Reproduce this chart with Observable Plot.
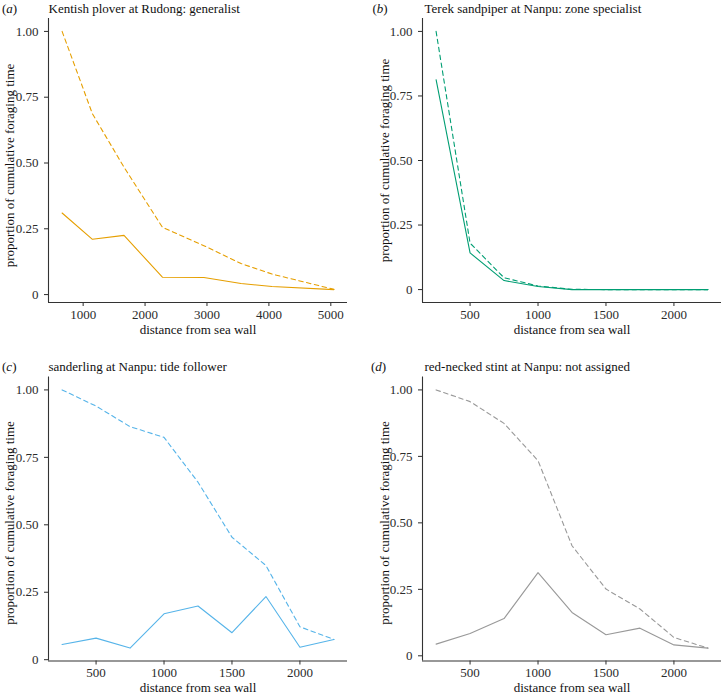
<!DOCTYPE html>
<html>
<head>
<meta charset="utf-8">
<script src="https://cdn.jsdelivr.net/npm/d3@7"></script>
<script src="https://cdn.jsdelivr.net/npm/@observablehq/plot@0.6"></script>
<style>
  body { margin: 0; background: #fff; }
  #fig { position: relative; width: 722px; height: 695px; background: #fff;
         font-family: "Liberation Serif", "Times New Roman", serif; }
  .panel { position: absolute; z-index: 1; }
  .tag { position: absolute; z-index: 5; font-size: 13px; line-height: 13px; color: #111; white-space: nowrap; }
</style>
</head>
<body>
<div id="fig"></div>
<script>
// ---------- data ----------
const distRudong = [660, 1150, 1660, 2280, 2950, 3550, 4050, 5050];
const kentishProportion = [0.31, 0.21, 0.225, 0.066, 0.065, 0.042, 0.031, 0.019];
const kentishCumulative = [1.0, 0.687, 0.484, 0.256, 0.186, 0.118, 0.078, 0.02];

const distNanpu = [250, 500, 750, 1000, 1250, 1500, 1750, 2000, 2250];
const terekProportion = [0.813, 0.142, 0.035, 0.012, 0, 0, 0, 0, 0];
const terekCumulative = [1.0, 0.18, 0.046, 0.014, 0.001, 0, 0, 0, 0];

const sanderlingProportion = [0.056, 0.080, 0.043, 0.170, 0.199, 0.100, 0.234, 0.046, 0.075];
const sanderlingCumulative = [1.0, 0.94, 0.864, 0.824, 0.658, 0.454, 0.349, 0.122, 0.075];

const stintProportion = [0.044, 0.084, 0.14, 0.313, 0.163, 0.079, 0.104, 0.041, 0.029];
const stintCumulative = [1.0, 0.956, 0.874, 0.734, 0.414, 0.251, 0.176, 0.069, 0.029];

const panelTags = ["a", "b", "c", "d"];
const panelTitles = [
  "Kentish plover at Rudong: generalist",
  "Terek sandpiper at Nanpu: zone specialist",
  "sanderling at Nanpu: tide follower",
  "red-necked stint at Nanpu: not assigned"
];
const xTicksRudong = [1000, 2000, 3000, 4000, 5000];
const xTicksNanpu = [500, 1000, 1500, 2000];
const yTicks = [0, 0.25, 0.5, 0.75, 1];
const xAxisTitle = "distance from sea wall";
const yAxisTitle = "proportion of cumulative foraging time";

// ---------- drawing ----------
const SERIF = "'Liberation Serif', 'Times New Roman', serif";
function expand([a, b]) { const p = (b - a) * 0.05; return [a - p, b + p]; }

function panel(o) {
  const rows = o.dist.map((d, i) => ({d, s: o.solid[i], c: o.dashed[i]}));
  const xd = expand(d3.extent(o.dist));
  const yd = expand(d3.extent(o.solid.concat(o.dashed)));
  return Plot.plot({
    width: o.width, height: o.height,
    marginLeft: o.ml, marginRight: o.mr, marginTop: o.mt, marginBottom: o.mb,
    style: `font-family: ${SERIF}; font-size: 13px; color: #2b2b2b; background: transparent; overflow: visible;`,
    x: {domain: xd},
    y: {domain: yd},
    marks: [
      Plot.axisX({ticks: o.xTicks, tickSize: 4, tickPadding: 3, label: null, tickFormat: d3.format("d"),
                  fontFamily: SERIF, fontSize: 13}),
      Plot.axisY({ticks: yTicks, tickSize: 4, tickPadding: 6, label: null, fontFamily: SERIF, fontSize: 13,
                  tickFormat: d => d === 0 ? "0" : d3.format(".2f")(d)}),
      Plot.ruleX([xd[0]], {stroke: "#333", strokeWidth: 1.1}),
      Plot.ruleY([yd[0]], {stroke: "#333", strokeWidth: 1.1}),
      Plot.line(rows, {x: "d", y: "c", stroke: o.color, strokeWidth: 1.1, strokeDasharray: "4.5,3.5"}),
      Plot.line(rows, {x: "d", y: "s", stroke: o.color, strokeWidth: 1.1}),
      Plot.text([yAxisTitle], {text: d => d, frameAnchor: "left", textAnchor: "middle", lineAnchor: "middle",
                               rotate: -90, dx: o.ytdx, dy: o.ytdy,
                               fontSize: 13, fill: "#111", fontFamily: SERIF}),
      Plot.text([xAxisTitle], {text: d => d, frameAnchor: "bottom", textAnchor: "middle", lineAnchor: "middle",
                               dy: 27, fontSize: 13, fill: "#111", fontFamily: SERIF}),
      Plot.text([o.title], {text: d => d, frameAnchor: "top-left", textAnchor: "start", lineAnchor: "bottom",
                            dx: o.tdx, dy: -6, fontSize: 13, fill: "#111", fontFamily: SERIF})
    ]
  });
}

const fig = document.getElementById("fig");
const specs = [
  {dist: distRudong, solid: kentishProportion, dashed: kentishCumulative, color: "#E69F00", xTicks: xTicksRudong,
   left: 0, top: 0, width: 361, height: 345, ml: 48, mr: 14, mt: 18, mb: 43, ytdx: -39, ytdy: 5, tdx: 0,
   tagLeft: 2, tagTop: 1.6},
  {dist: distNanpu, solid: terekProportion, dashed: terekCumulative, color: "#009E73", xTicks: xTicksNanpu,
   left: 361, top: 0, width: 361, height: 345, ml: 61, mr: 1, mt: 18, mb: 43, ytdx: -38, ytdy: 0, tdx: 2,
   tagLeft: 372.5, tagTop: 1.6},
  {dist: distNanpu, solid: sanderlingProportion, dashed: sanderlingCumulative, color: "#56B4E9", xTicks: xTicksNanpu,
   left: 0, top: 345, width: 361, height: 350, ml: 48, mr: 14, mt: 31.5, mb: 34.5, ytdx: -39, ytdy: 4, tdx: 0,
   tagLeft: 2, tagTop: 359.8},
  {dist: distNanpu, solid: stintProportion, dashed: stintCumulative, color: "#999999", xTicks: xTicksNanpu,
   left: 361, top: 345, width: 361, height: 350, ml: 61, mr: 1, mt: 31.5, mb: 34.5, ytdx: -38, ytdy: 4, tdx: 2,
   tagLeft: 371, tagTop: 359.8}
];

specs.forEach((s, i) => {
  const svg = panel({...s, title: panelTitles[i]});
  svg.classList.add("panel");
  svg.style.position = "absolute";
  svg.style.left = s.left + "px";
  svg.style.top = s.top + "px";
  fig.appendChild(svg);
});
specs.forEach((s, i) => {
  const tag = document.createElement("div");
  tag.className = "tag";
  tag.style.left = s.tagLeft + "px";
  tag.style.top = s.tagTop + "px";
  tag.append("(");
  const it = document.createElement("i");
  it.textContent = panelTags[i];
  tag.append(it, ")");
  fig.appendChild(tag);
});
</script>
</body>
</html>
